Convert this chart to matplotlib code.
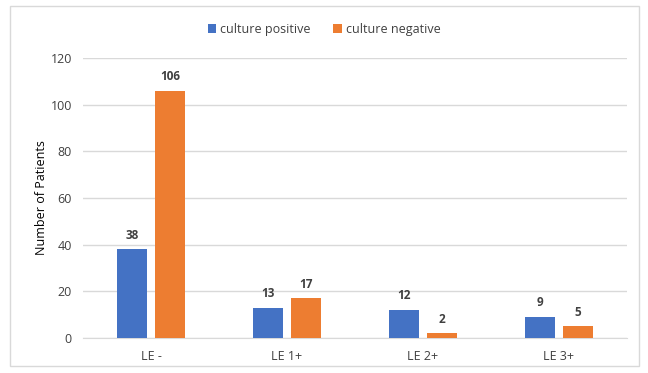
import numpy as np
import matplotlib
matplotlib.use("Agg")
import matplotlib.pyplot as plt
from matplotlib.patches import Rectangle

plt.rcParams['font.family'] = ['Open Sans', 'DejaVu Sans']

# data
categories = ["LE -", "LE 1+", "LE 2+", "LE 3+"]
culture_pos = [38, 13, 12, 9]
culture_neg = [106, 17, 2, 5]
series_names = ["culture positive", "culture negative"]
colors = ["#4472C4", "#ED7D31"]

fig = plt.figure(figsize=(6.48, 3.73), dpi=100)
ax = fig.add_axes([0.128, 0.094, 0.8395, 0.7507])

# light border round the whole chart, like the excel chart area
fig.patches.append(Rectangle((10 / 648, 1 - 366 / 373), 629 / 648, 360 / 373,
                             transform=fig.transFigure, fill=False,
                             edgecolor="#D9D9D9", linewidth=1))

x = np.arange(len(categories))
w = 0.22
off = 0.14
b1 = ax.bar(x - off, culture_pos, w, color=colors[0], label=series_names[0], zorder=3)
b2 = ax.bar(x + off, culture_neg, w, color=colors[1], label=series_names[1], zorder=3)

for bars, vals in ((b1, culture_pos), (b2, culture_neg)):
    for b, v in zip(bars, vals):
        ax.text(b.get_x() + b.get_width() / 2, v + 3.2, str(v), ha="center", va="bottom",
                fontsize=8.5, fontweight="bold", color="#404040")

ax.set_xlim(-0.5, len(categories) - 0.5)
ax.set_ylim(0, 120)
ax.set_yticks(range(0, 121, 20))
ax.set_xticks(x)
ax.set_xticklabels(categories)
ax.tick_params(axis="both", length=0, labelsize=9, colors="#404040", pad=8)
ax.tick_params(axis="x", pad=9)
ax.grid(axis="y", color="#D9D9D9", linewidth=1, zorder=0)
for s in ("top", "right", "left"):
    ax.spines[s].set_visible(False)
ax.spines["bottom"].set_color("#D9D9D9")
ax.set_ylabel("Number of Patients", fontsize=9, color="#000000", labelpad=2)

fig.legend(loc="center", bbox_to_anchor=(0.5, 1 - 29 / 373), ncol=2, frameon=False,
           fontsize=9, handlelength=0.7, handleheight=0.7, handletextpad=0.3,
           columnspacing=1.8, labelcolor="#404040")

fig.savefig("out.png", dpi=100)
